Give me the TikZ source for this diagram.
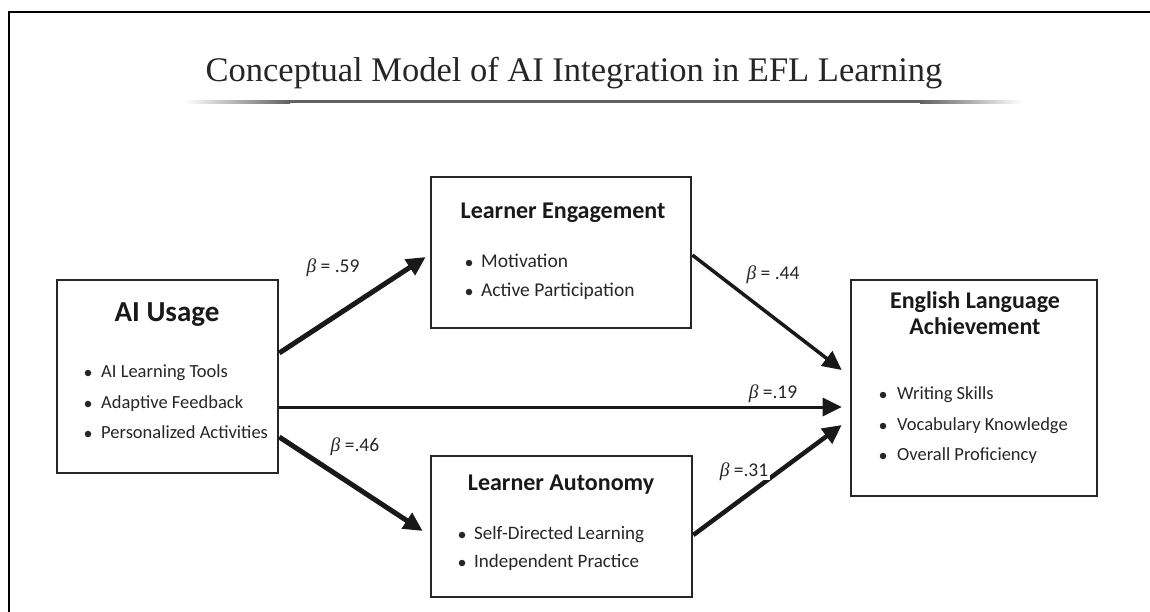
\documentclass[tikz,border=0pt]{standalone}
\usepackage{fontspec}
\setmainfont{Liberation Serif}
\setsansfont{Carlito}
\newfontfamily\betafont{Liberation Serif}
\usetikzlibrary{arrows.meta}

\begin{document}
\begin{tikzpicture}[x=1pt,y=-1pt,
  box/.style={draw=black!85, line width=2.6pt, fill=white, inner sep=0pt},
  boxtitle/.style={font=\sffamily\bfseries\fontsize{24}{26}\selectfont, text=black!90,
    inner sep=0pt, text height=0.64em, text depth=0pt, align=center},
  item/.style={font=\sffamily\fontsize{18.5}{22}\selectfont, anchor=west, inner sep=0pt,
    text height=0.66em, text depth=0pt, text=black!85},
  dot/.style={circle, fill=black!85, minimum size=6.5pt, inner sep=0pt},
  link/.style={draw=black!90, -{Triangle[length=19pt,width=18pt]}},
  coef/.style={font=\sffamily\fontsize{19.5}{22}\selectfont, inner sep=2pt,
    text height=0.7em, text depth=0.15em, text=black!85}
]
\useasboundingbox (0,0) rectangle (1150,612);
\fill[white] (0,0) rectangle (1150,612);

% frame
\draw[line width=2.5pt, black] (1150,12) -- (9,12) -- (9,612);

% heading and its fading rule
\node[font=\fontsize{34.5}{40}\selectfont, text=black!85, inner sep=0pt] (title) at (574,73)
  {Conceptual Model of AI Integration in EFL Learning};
\shade[left color=white, right color=black!62] (185,100.5) rectangle (290,103.5);
\fill[black!62] (289.5,100.5) rectangle (920.5,103.5);
\shade[left color=black!62, right color=white] (920,100.5) rectangle (1022,103.5);

% boxes
\node[box, minimum width=221pt, minimum height=193pt] (ai)  at (167.5,376.5) {};
\node[box, minimum width=260pt, minimum height=151pt] (eng) at (561,252.5) {};
\node[box, minimum width=261pt, minimum height=141pt] (aut) at (561.5,526.5) {};
\node[box, minimum width=246pt, minimum height=216pt] (ach) at (974,388) {};

% AI usage
\node[boxtitle, font=\sffamily\bfseries\fontsize{29}{32}\selectfont] (aiT) at (167,318) {AI Usage};
\node[dot] (aiD1) at (88,373) {}; \node[item] (ai1) at (101,374) {AI Learning Tools};
\node[dot] (aiD2) at (88,404) {}; \node[item] (ai2) at (101,405) {Adaptive Feedback};
\node[dot] (aiD3) at (88,434) {}; \node[item] (ai3) at (101,435) {Personalized Activities};

% learner engagement
\node[boxtitle] (engT) at (563,215) {Learner Engagement};
\node[dot] (engD1) at (469,263) {}; \node[item, font=\sffamily\fontsize{19.5}{22}\selectfont] (eng1) at (481,264) {Motivation};
\node[dot] (engD2) at (469,292) {}; \node[item, font=\sffamily\fontsize{19.5}{22}\selectfont] (eng2) at (481,293) {Active Participation};

% learner autonomy
\node[boxtitle] (autT) at (561,487) {Learner Autonomy};
\node[dot] (autD1) at (462,535) {}; \node[item, font=\sffamily\fontsize{19}{22}\selectfont] (aut1) at (474,536) {Self-Directed Learning};
\node[dot] (autD2) at (462,563) {}; \node[item, font=\sffamily\fontsize{19}{22}\selectfont] (aut2) at (474,564) {Independent Practice};

% achievement
\node[boxtitle] (achT) at (975,331) {English Language\\Achievement};
\node[dot] (achD1) at (883,395) {}; \node[item] (ach1) at (897,396) {Writing Skills};
\node[dot] (achD2) at (883,426) {}; \node[item] (ach2) at (897,427) {Vocabulary Knowledge};
\node[dot] (achD3) at (883,456) {}; \node[item] (ach3) at (897,457) {Overall Proficiency};

% paths
\draw[link, line width=5pt]   ([yshift=23.5pt]ai.east)  -- ([xshift=-4pt,yshift=-4.5pt]eng.west);
\draw[link, line width=5pt]   ([yshift=-60.5pt]ai.east) -- ([xshift=-7pt,yshift=-4.5pt]aut.west);
\draw[link, line width=3.5pt] ([yshift=-2.5pt]eng.east) -- ([xshift=-8pt,yshift=18pt]ach.west);
\draw[link, line width=3pt]   ([yshift=-30.5pt]ai.east) -- ([xshift=-8pt,yshift=-19pt]ach.west);
\draw[link, line width=4.5pt] ([yshift=-8.5pt]aut.east) -- ([xshift=-8pt,yshift=-37pt]ach.west);

% path coefficients
\node[coef] (b59) at (333,270) {{\betafont\itshape β} = .59};
\node[coef] (b46) at (355,449) {{\betafont\itshape β} =.46};
\node[coef] (b44) at (773,277) {{\betafont\itshape β} = .44};
\node[coef] (b19) at (773,396) {{\betafont\itshape β} =.19};
\node[coef, fill=white] (b31) at (744,474) {{\betafont\itshape β} =.31};
\end{tikzpicture}
\end{document}
